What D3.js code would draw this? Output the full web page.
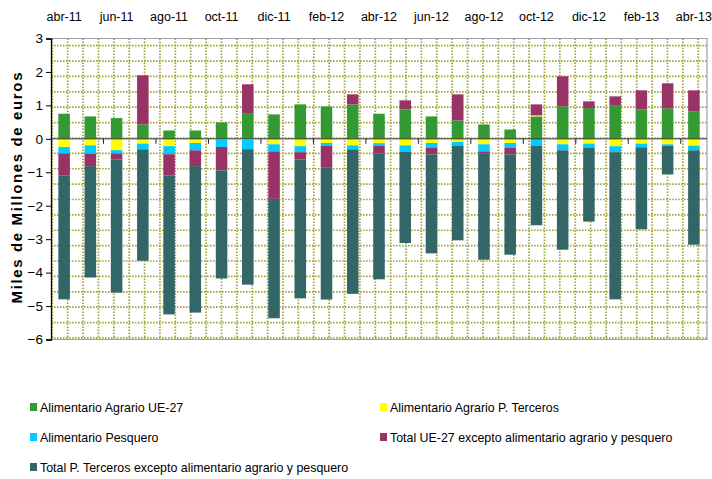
<!DOCTYPE html>
<html>
<head>
<meta charset="utf-8">
<script src="https://cdn.jsdelivr.net/npm/d3@7"></script>
<style>
  body { margin: 0; background: #fff; }
  svg { display: block; font-family: "Liberation Sans", Arial, sans-serif; }
</style>
</head>
<body>
<svg id="chart" width="712" height="479"></svg>
<script>
const months = ["abr-11","may-11","jun-11","jul-11","ago-11","sep-11","oct-11","nov-11","dic-11","ene-12","feb-12","mar-12","abr-12","may-12","jun-12","jul-12","ago-12","sep-12","oct-12","nov-12","dic-12","ene-13","feb-13","mar-13","abr-13"];

const seriesNames = [
  "Alimentario Agrario UE-27",
  "Alimentario Agrario P. Terceros",
  "Alimentario Pesquero",
  "Total UE-27 excepto alimentario agrario y pesquero",
  "Total P. Terceros excepto alimentario agrario y pesquero"
];
const seriesColors = ["#339933", "#FFFF00", "#00CCFF", "#993366", "#336666"];

const agrarioUE = [0.75,0.67,0.62,0.43,0.25,0.25,0.49,0.75,0.73,1.03,0.97,1.03,0.75,0.88,0.67,0.55,0.43,0.28,0.67,0.97,0.92,0.99,0.88,0.91,0.82];
const agrarioTerceros = [-0.245,-0.195,-0.34,-0.145,-0.22,-0.125,-0.02,-0.02,-0.165,-0.22,-0.125,-0.195,-0.13,-0.195,-0.125,-0.095,-0.165,-0.125,0.03,-0.165,-0.145,-0.22,-0.145,-0.165,-0.205];
const pesquero = [-0.195,-0.25,-0.10,-0.17,-0.24,-0.22,-0.225,-0.29,-0.21,-0.18,-0.09,-0.12,-0.08,-0.2,-0.15,-0.12,-0.21,-0.15,-0.215,-0.18,-0.13,-0.18,-0.11,-0.05,-0.14];
const restoUE = [-0.65,-0.37,-0.18,1.47,-0.63,-0.47,-0.70,0.88,-1.42,-0.22,-0.65,0.30,-0.23,0.27,-0.19,0.78,-0.07,-0.19,0.33,0.90,0.20,0.28,0.57,0.75,0.63];
const restoTerceros = [-3.71,-3.33,-3.98,-3.33,-4.16,-4.38,-3.23,-4.05,-3.57,-4.15,-3.94,-4.32,-3.76,-2.72,-2.96,-2.82,-3.17,-3.0,-2.37,-2.97,-2.2,-4.4,-2.45,-0.85,-2.82];

const yTicks = [-6,-5,-4,-3,-2,-1,0,1,2,3];
const topLabels = months.filter((m, i) => i % 2 === 0);
const yTitle = "Miles de Millones de euros";

const seriesData = [agrarioUE, agrarioTerceros, pesquero, restoUE, restoTerceros];
const keys = seriesNames;
const table = months.map((m, i) => {
  const row = { month: m };
  keys.forEach((k, j) => row[k] = seriesData[j][i]);
  return row;
});

const svg = d3.select("#chart");
const plot = { left: 51, right: 707, top: 38.5, bottom: 339.5 };

const x = d3.scaleBand().domain(months).range([plot.left, plot.right]).paddingInner(0.56).paddingOuter(0.28);
const xOuter = d3.scaleBand().domain(months).range([plot.left, plot.right]);
const y = d3.scaleLinear().domain([-6, 3]).range([plot.bottom, plot.top]);

// decorative dotted grid pattern (plot area fill)
const gridStep = 15.38;
const grid = svg.append("g");
const vx = d3.range(plot.left + 1.3, plot.right - 2, gridStep);
const hy = d3.range(45.7, plot.bottom, gridStep);
grid.selectAll("line.v").data(vx).join("line")
  .attr("x1", d => d).attr("x2", d => d)
  .attr("y1", plot.top).attr("y2", plot.bottom)
  .attr("stroke", "#a3a336").attr("stroke-width", 1.7).attr("stroke-dasharray", "1.6,1.4");
grid.selectAll("line.h").data(hy).join("line")
  .attr("x1", plot.left).attr("x2", plot.right)
  .attr("y1", d => d).attr("y2", d => d)
  .attr("stroke", "#a3a336").attr("stroke-width", 1.7).attr("stroke-dasharray", "1.6,1.4");

// plot frame (top, right, bottom)
svg.append("path")
  .attr("d", `M${plot.left},${plot.top}H${plot.right}V${plot.bottom}H${plot.left}`)
  .attr("fill", "none").attr("stroke", "#a0a0a0").attr("stroke-width", 1.2);

// stacked bars
const stack = d3.stack().keys(keys).offset(d3.stackOffsetDiverging);
const stacked = stack(table);
svg.append("g").selectAll("g").data(stacked).join("g")
  .attr("fill", (d, i) => seriesColors[i])
  .selectAll("rect").data(d => d).join("rect")
  .attr("x", d => x(d.data.month))
  .attr("width", x.bandwidth())
  .attr("y", d => y(Math.max(d[0], d[1])))
  .attr("height", d => Math.abs(y(d[0]) - y(d[1])));

// zero line with ticks every two months
svg.append("line")
  .attr("x1", plot.left).attr("x2", plot.right)
  .attr("y1", y(0)).attr("y2", y(0))
  .attr("stroke", "#333").attr("stroke-width", 1);
const tickBoundaries = months.map((m, i) => i).filter(i => i > 0 && i % 2 === 0);
svg.append("g").selectAll("line").data(tickBoundaries).join("line")
  .attr("x1", i => xOuter(months[i])).attr("x2", i => xOuter(months[i]))
  .attr("y1", y(0)).attr("y2", y(0) + 5)
  .attr("stroke", "#222").attr("stroke-width", 1);

// y axis
const yAxis = d3.axisLeft(y).tickValues(yTicks).tickSize(5).tickPadding(3).tickFormat(d3.format("d"));
const yg = svg.append("g").attr("transform", `translate(${plot.left},0)`).call(yAxis);
yg.select(".domain").attr("stroke", "#000").attr("stroke-width", 1.3);
yg.selectAll(".tick line").attr("stroke", "#000");
yg.selectAll(".tick text").attr("font-size", 13.5).attr("fill", "#000")
  .attr("font-family", "'Liberation Sans', Arial, sans-serif");

// top month labels
svg.append("g").selectAll("text").data(topLabels).join("text")
  .attr("x", d => xOuter(d) + xOuter.bandwidth() / 2)
  .attr("y", 21)
  .attr("text-anchor", "middle")
  .attr("font-size", 12.5)
  .attr("fill", "#000")
  .text(d => d);

// y title
svg.append("text")
  .attr("transform", "translate(22,188) rotate(-90)")
  .attr("text-anchor", "middle")
  .attr("font-size", 15)
  .attr("font-weight", "bold")
  .attr("textLength", 231)
  .attr("lengthAdjust", "spacing")
  .attr("fill", "#000")
  .text(yTitle);

// legend
const legendPos = [
  { x: 30, y: 407 }, { x: 380, y: 407 },
  { x: 30, y: 437 }, { x: 380, y: 437 },
  { x: 30, y: 467 }
];
const lg = svg.append("g").selectAll("g").data(seriesNames).join("g")
  .attr("transform", (d, i) => `translate(${legendPos[i].x},${legendPos[i].y})`);
lg.append("rect").attr("x", 0).attr("y", -4).attr("width", 7).attr("height", 8)
  .attr("fill", (d, i) => seriesColors[i]);
lg.append("text").attr("x", 10).attr("y", 4.5).attr("font-size", 12.4).attr("fill", "#000").text(d => d);
</script>
</body>
</html>
